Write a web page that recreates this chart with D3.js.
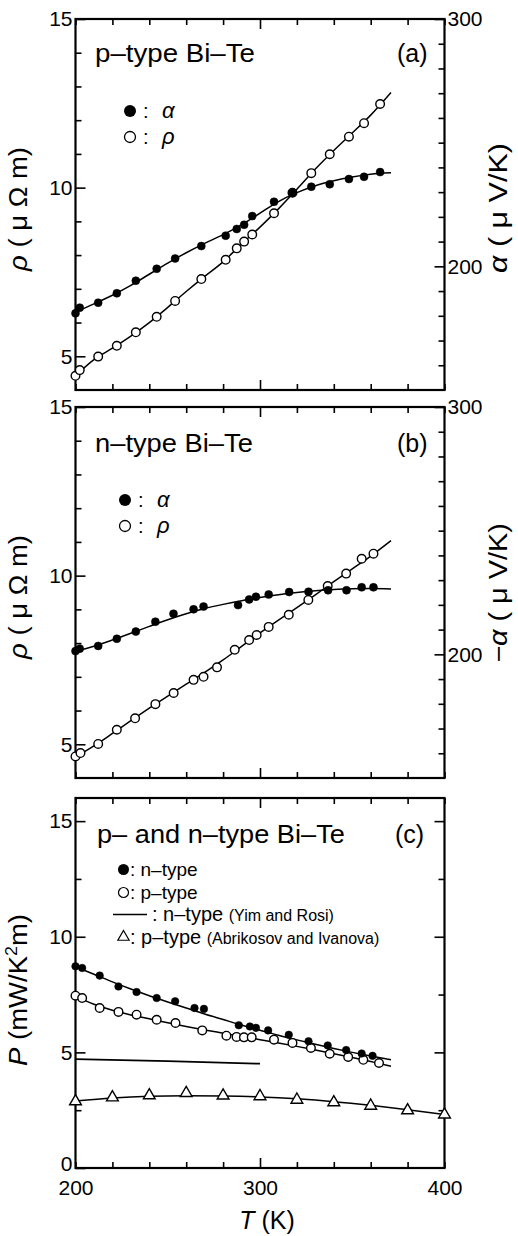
<!DOCTYPE html>
<html><head><meta charset="utf-8">
<script src="https://cdn.jsdelivr.net/npm/d3@7"></script>
<style>body{margin:0;background:#fff}svg{display:block;font-family:"Liberation Sans",Arial,sans-serif}</style>
</head><body><svg id="chart" width="518" height="1236"></svg>
<script>
// ---------- data ----------
const tempTicks = d3.range(200, 401, 20);
const tempLabels = [200, 300, 400];
const fitT = [200,210,220,230,240,250,260,270,280,290,300,310,320,330,340,350,360,371];

// (a) p-type Bi-Te
const aAlphaT = [200,202.3,212.3,222.4,232.7,244,254,268.2,281.4,287.4,291.4,295.8,307.6,317.6,327.8,337.8,348.2,356.4,365.1];
const aAlpha  = [181,183.3,185.3,189.1,194.2,199,203.2,208.2,212.4,215.1,216.8,220.3,226.1,229.8,232.2,233.2,235.3,236.2,238.1];
const aRhoT   = [200,202.3,212.3,222.4,232.7,244,254,268.2,281.4,287.4,291.4,295.8,307.6,317.6,327.8,337.8,348.2,356.4,365.1];
const aRho    = [4.42,4.59,4.99,5.31,5.71,6.17,6.64,7.29,7.86,8.20,8.40,8.61,9.24,9.85,10.43,10.99,11.51,11.91,12.48];
const aAlphaFit = [181.5,184.8,188.3,192.3,196.8,201.3,205.5,209.3,212.8,216.8,221.5,226.2,229.8,232.6,234.6,236.1,237.2,237.8];
const aRhoFit   = [4.42,4.9,5.24,5.6,6.0,6.45,6.92,7.37,7.8,8.33,8.83,9.37,9.95,10.55,11.1,11.62,12.15,12.82];

// (b) n-type Bi-Te
const bAlphaT = [200,202.3,212.3,222.4,232.7,243.3,253.1,264,269.4,288.1,294.1,297.8,304.7,315.8,326.3,336.9,346.9,355.1,361.5];
const bAlpha  = [201.3,202.3,203.4,206.3,209.2,213.2,216.4,218.2,219.3,219.9,222.2,223.3,224.2,225.2,225.3,225.9,225.9,227.1,227.1];
const bRhoT   = [200,202.7,212.3,222.4,232.3,243.3,253.2,264,269.4,276.7,286.3,294.1,298.2,304.7,315.6,326.2,336.7,346.7,355.1,361.5];
const bRho    = [4.64,4.74,5.01,5.43,5.77,6.19,6.52,6.91,7.0,7.28,7.8,8.09,8.24,8.48,8.84,9.28,9.69,10.06,10.5,10.65];
const bAlphaFit = [201.3,203.3,205.8,208.5,211.3,214,216.4,218.5,220.2,221.7,223,224.1,225,225.7,226.2,226.5,226.6,226.4];
const bRhoFit   = [4.62,4.95,5.32,5.7,6.07,6.43,6.78,7.13,7.5,7.9,8.3,8.68,9.05,9.43,9.82,10.2,10.58,11.04];

// (c) power factor
const cNT = [200,203.6,213.1,223.3,233.1,244,254,264.5,269.6,288.5,294.5,297.8,304.4,315.6,326.3,336.7,346.7,355.1,361];
const cN  = [8.72,8.65,8.32,7.85,7.61,7.35,7.21,6.92,6.88,6.17,6.12,6.06,5.95,5.76,5.48,5.30,5.10,4.95,4.85];
const cPT = [200,203.6,213.1,223.3,233.1,244,254.2,268.7,281.8,287.3,291.3,295.5,307.6,317.6,327.6,337.8,347.8,356,364.5];
const cP  = [7.45,7.35,6.92,6.75,6.63,6.41,6.27,5.95,5.72,5.67,5.65,5.65,5.55,5.41,5.19,4.94,4.80,4.68,4.54];
const cNFit = [8.7,8.38,8.05,7.74,7.45,7.18,6.92,6.66,6.42,6.18,5.96,5.74,5.54,5.35,5.17,5.0,4.84,4.68];
const cPFit = [7.42,7.08,6.82,6.62,6.45,6.28,6.12,5.97,5.83,5.69,5.55,5.41,5.26,5.1,4.94,4.78,4.61,4.4];
const yimT = [200,250,300];
const yimP = [4.71,4.62,4.51];
const abrT = [200,220,240,260,280,300,320,340,360,380,400];
const abrP = [2.88,3.05,3.14,3.24,3.13,3.10,2.95,2.84,2.69,2.49,2.31];
const abrFit = [2.9,3.03,3.1,3.12,3.11,3.07,2.99,2.87,2.71,2.52,2.31];

// ---------- drawing ----------
const svg = d3.select("#chart");
const X0 = 75.5, X1 = 444.5;
const x = d3.scaleLinear().domain([200,400]).range([X0,X1]);
const TICKFONT = 21;

function zip(a,b){return a.map((v,i)=>[v,b[i]]);}

function drawFrame(top,bottom,yL,leftMinor,leftMajor,yR,rightMinor,rightMajor,rightLabels,xLabels){
  const g = svg.append("g");
  const minorX = tempTicks.filter(t=>t!==300);
  [[d3.axisTop, top],[d3.axisBottom,bottom]].forEach(([ax,yy])=>{
    g.append("g").attr("transform",`translate(0,${yy})`)
      .call(ax(x).tickValues(minorX).tickSize(-6).tickFormat(""));
    g.append("g").attr("transform",`translate(0,${yy})`)
      .call(ax(x).tickValues([300]).tickSize(-10).tickFormat(""));
  });
  if(xLabels){
    g.append("g").attr("transform",`translate(0,${bottom})`)
      .call(d3.axisBottom(x).tickValues(tempLabels).tickSize(0).tickPadding(12).tickFormat(d3.format("d")));
  }
  g.append("g").attr("transform",`translate(${X0},0)`)
    .call(d3.axisLeft(yL).tickValues(leftMinor).tickSize(-6).tickFormat(""));
  const lm = g.append("g").attr("transform",`translate(${X0},0)`)
    .call(d3.axisLeft(yL).tickValues(leftMajor).tickSize(-10).tickPadding(3).tickFormat(d3.format("d")));
  lm.selectAll(".tick").filter(d=>d===0).select("text").attr("dy","0.1em");
  g.append("g").attr("transform",`translate(${X1},0)`)
    .call(d3.axisRight(yR).tickValues(rightMinor).tickSize(-6).tickFormat(""));
  g.append("g").attr("transform",`translate(${X1},0)`)
    .call(d3.axisRight(yR).tickValues(rightMajor).tickSize(-10).tickPadding(3)
      .tickFormat(rightLabels ? d3.format("d") : ""));
  g.selectAll(".domain").remove();
  g.selectAll(".tick line").attr("stroke","#000").attr("stroke-width",1.6);
  g.selectAll(".tick text").attr("font-size",TICKFONT).attr("fill","#000")
    .attr("font-family",'"Liberation Sans",Arial,sans-serif');
  g.append("rect").attr("x",X0).attr("y",top).attr("width",X1-X0).attr("height",bottom-top)
    .attr("fill","none").attr("stroke","#000").attr("stroke-width",2.2);
}

function fitLine(ys, T, V){
  svg.append("path").datum(zip(T,V))
    .attr("fill","none").attr("stroke","#000").attr("stroke-width",1.5)
    .attr("d", d3.line().x(d=>x(d[0])).y(d=>ys(d[1])).curve(d3.curveMonotoneX));
}
function dots(ys, T, V, filled, r){
  svg.append("g").selectAll("circle").data(zip(T,V)).join("circle")
    .attr("cx",d=>x(d[0])).attr("cy",d=>ys(d[1])).attr("r",r)
    .attr("fill",filled?"#000":"#fff").attr("stroke","#000").attr("stroke-width",filled?0.5:1.4);
}
function tris(ys, T, V){
  svg.append("g").selectAll("path").data(zip(T,V)).join("path")
    .attr("transform",d=>`translate(${x(d[0])},${ys(d[1])})`)
    .attr("d", d3.symbol(d3.symbolTriangle, 60)())
    .attr("fill","#fff").attr("stroke","#000").attr("stroke-width",1.4);
}
function text(xp,yp,str,size,opts={}){
  const t = svg.append("text").attr("x",xp).attr("y",yp).attr("font-size",size).attr("fill","#000");
  if(opts.anchor) t.attr("text-anchor",opts.anchor);
  if(opts.italic) t.attr("font-style","italic");
  t.text(str);
  return t;
}
// widen a text horizontally to a target length (keeps glyph spacing natural)
function stretched(xp,yp,str,size,len){
  const t = svg.append("text").attr("x",0).attr("y",0).attr("font-size",size).attr("fill","#000").text(str);
  const w = t.node().getComputedTextLength();
  t.attr("transform",`translate(${xp},${yp}) scale(${len/w},1)`);
  return t;
}
function vtitle(cx,cy,parts,size,len){
  const t = svg.append("text").attr("text-anchor","middle").attr("font-size",size).attr("fill","#000");
  parts.forEach(p=>{
    const s = t.append("tspan").text(p.t);
    if(p.i) s.attr("font-style","italic");
    if(p.sup) s.attr("baseline-shift","super").attr("font-size",size*0.65);
  });
  const w = t.node().getComputedTextLength();
  const k = len ? len/w : 1;
  t.attr("transform",`translate(${cx},${cy}) rotate(-90) scale(${k},1)`);
  return t;
}
function legendAlphaRho(lx, ly1, ly2){
  svg.append("circle").attr("cx",lx).attr("cy",ly1).attr("r",6).attr("fill","#000");
  svg.append("circle").attr("cx",lx).attr("cy",ly2).attr("r",5.5).attr("fill","#fff").attr("stroke","#000").attr("stroke-width",1.3);
  text(lx+13, ly1+7, ":", 20);
  text(lx+32, ly1+7, "α", 22, {italic:true});
  text(lx+13, ly2+7, ":", 20);
  text(lx+32, ly2+7, "ρ", 22, {italic:true});
}

// ---- panel (a)
{
  const top=19, bottom=390;
  const yL = d3.scaleLinear().domain([4,15]).range([bottom,top]);
  const yR = d3.scaleLinear().domain([150,300]).range([bottom,top]);
  drawFrame(top,bottom,yL,d3.range(5,15,1).filter(v=>v%5),[5,10,15],yR,d3.range(160,300,10).filter(v=>v%100),[200,300],true,false);
  fitLine(yR, fitT, aAlphaFit);
  fitLine(yL, fitT, aRhoFit);
  dots(yL, aRhoT, aRho, false, 4.3);
  dots(yR, aAlphaT, aAlpha, true, 4);
  stretched(95,62,"p–type Bi–Te",25,160);
  text(397,62,"(a)",25);
  legendAlphaRho(130,111,137);
  vtitle(27,209,[{t:"ρ",i:true},{t:" ( μ Ω m)"}],25,124);
  vtitle(507,208,[{t:"α",i:true},{t:" ( μ V/K)"}],25,130);
}
// ---- panel (b)
{
  const top=407, bottom=778;
  const yL = d3.scaleLinear().domain([4,15]).range([bottom,top]);
  const yR = d3.scaleLinear().domain([150,300]).range([bottom,top]);
  drawFrame(top,bottom,yL,d3.range(5,15,1).filter(v=>v%5),[5,10,15],yR,d3.range(160,300,10).filter(v=>v%100),[200,300],true,false);
  fitLine(yR, fitT, bAlphaFit);
  fitLine(yL, fitT, bRhoFit);
  dots(yL, bRhoT, bRho, false, 4.3);
  dots(yR, bAlphaT, bAlpha, true, 4);
  stretched(95,452,"n–type Bi–Te",25,158);
  text(397,452,"(b)",25);
  legendAlphaRho(125,500,526);
  vtitle(27,597,[{t:"ρ",i:true},{t:" ( μ Ω m)"}],25,124);
  vtitle(507,593,[{t:"−α",i:true},{t:" ( μ V/K)"}],25,140);
}
// ---- panel (c)
{
  const top=798, bottom=1168;
  const yL = d3.scaleLinear().domain([0,16]).range([bottom,top]);
  drawFrame(top,bottom,yL,[2.5,7.5,12.5],[0,5,10,15],yL,[2.5,7.5,12.5],[5,10,15],false,true);
  fitLine(yL, fitT, cNFit);
  fitLine(yL, fitT, cPFit);
  fitLine(yL, abrT, abrFit);
  svg.append("path").datum(zip(yimT,yimP)).attr("fill","none").attr("stroke","#000").attr("stroke-width",1.8)
    .attr("d", d3.line().x(d=>x(d[0])).y(d=>yL(d[1])));
  dots(yL, cPT, cP, false, 4.3);
  dots(yL, cNT, cN, true, 3.8);
  tris(yL, abrT, abrP);
  stretched(97,843,"p– and n–type Bi–Te",25,248);
  text(395,843,"(c)",25);
  // legend
  svg.append("circle").attr("cx",123.5).attr("cy",869.5).attr("r",5.5).attr("fill","#000");
  svg.append("circle").attr("cx",123.5).attr("cy",892.5).attr("r",5).attr("fill","#fff").attr("stroke","#000").attr("stroke-width",1.2);
  svg.append("line").attr("x1",113).attr("x2",147).attr("y1",914.5).attr("y2",914.5).attr("stroke","#000").attr("stroke-width",1.6);
  svg.append("path").attr("transform","translate(123.5,937)").attr("d",d3.symbol(d3.symbolTriangle,55)())
    .attr("fill","#fff").attr("stroke","#000").attr("stroke-width",1.2);
  text(130,876,": n–type",19);
  text(130,899,": p–type",19);
  const t3 = text(152,921,": n–type ",20); t3.append("tspan").attr("font-size",16).text("(Yim and Rosi)");
  const t4 = text(130,944,": p–type ",20); t4.append("tspan").attr("font-size",16).text("(Abrikosov and Ivanova)");
  vtitle(27,990,[{t:"P",i:true},{t:" (mW/K"},{t:"2",sup:true},{t:"m)"}],26,152);
  const tt = text(267,1229,"",25,{anchor:"middle"});
  tt.append("tspan").attr("font-style","italic").text("T");
  tt.append("tspan").text(" (K)");
}
</script></body></html>
